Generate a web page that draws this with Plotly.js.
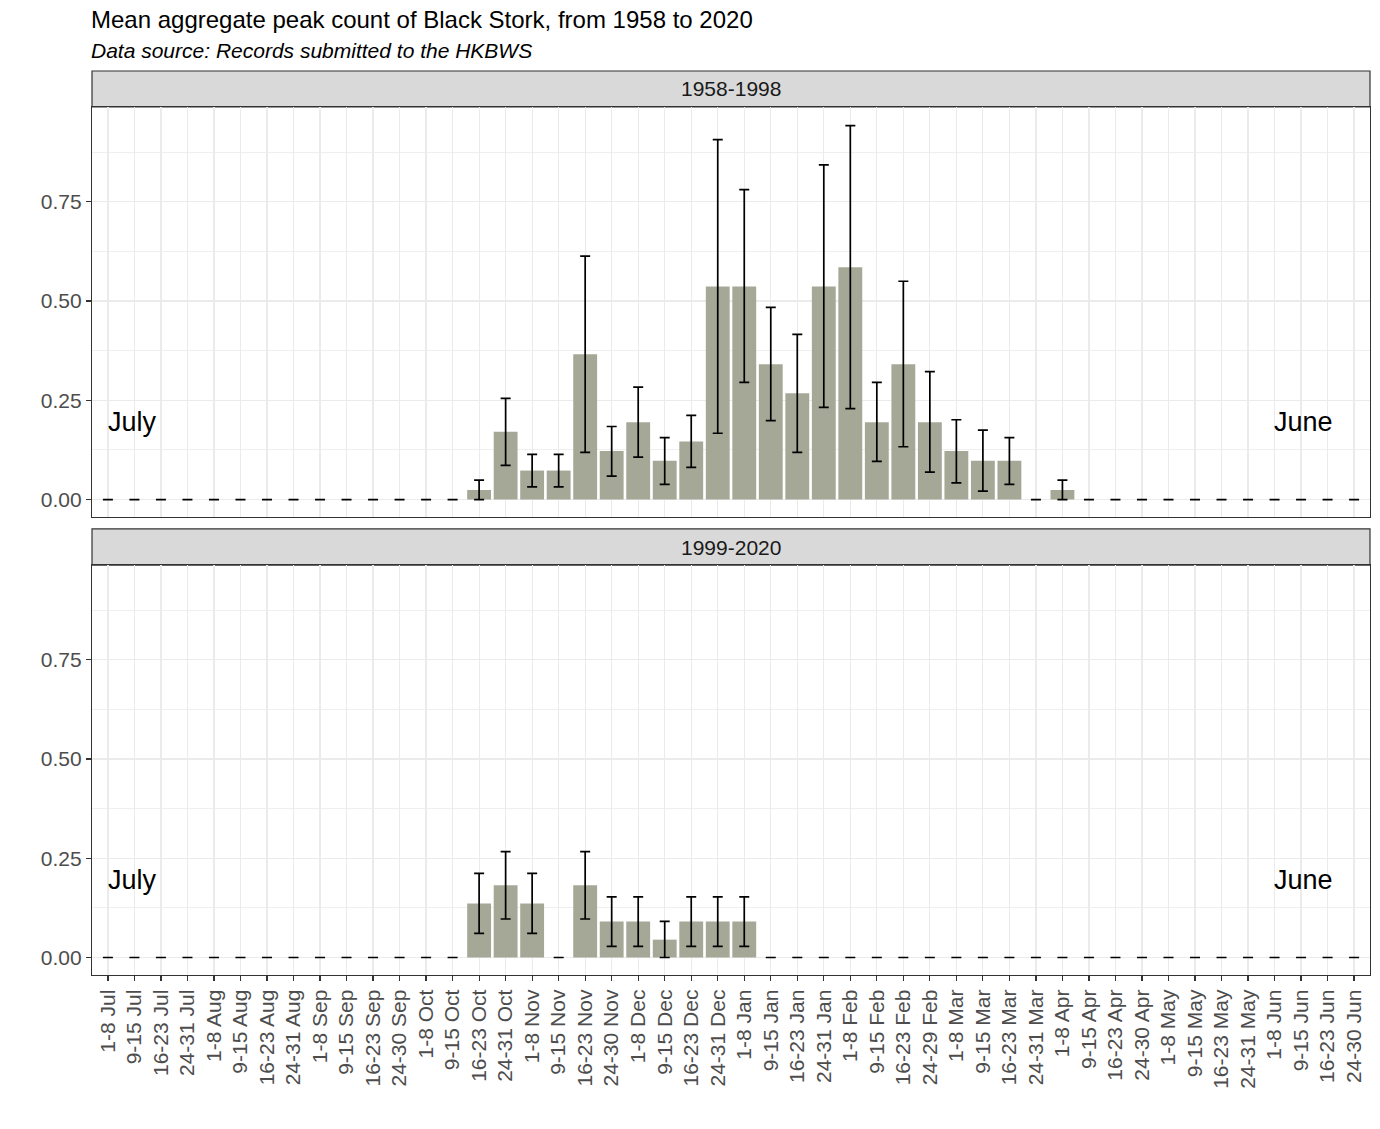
<!DOCTYPE html>
<html>
<head>
<meta charset="utf-8">
<script src="https://cdn.plot.ly/plotly-3.0.1.min.js"></script>
<style>
  html, body { margin: 0; padding: 0; background: #ffffff; }
  #chart { width: 1380px; height: 1129px; }
</style>
</head>
<body>
<div id="chart"></div>
<script>
// ---- Data ----
const weeks = ['1-8 Jul','9-15 Jul','16-23 Jul','24-31 Jul','1-8 Aug','9-15 Aug','16-23 Aug','24-31 Aug',
  '1-8 Sep','9-15 Sep','16-23 Sep','24-30 Sep','1-8 Oct','9-15 Oct','16-23 Oct','24-31 Oct',
  '1-8 Nov','9-15 Nov','16-23 Nov','24-30 Nov','1-8 Dec','9-15 Dec','16-23 Dec','24-31 Dec',
  '1-8 Jan','9-15 Jan','16-23 Jan','24-31 Jan','1-8 Feb','9-15 Feb','16-23 Feb','24-29 Feb',
  '1-8 Mar','9-15 Mar','16-23 Mar','24-31 Mar','1-8 Apr','9-15 Apr','16-23 Apr','24-30 Apr',
  '1-8 May','9-15 May','16-23 May','24-31 May','1-8 Jun','9-15 Jun','16-23 Jun','24-30 Jun'];

// Period 1958-1998
const mean1958 = [0,0,0,0, 0,0,0,0, 0,0,0,0, 0,0,0.024,0.171,
  0.073,0.073,0.366,0.122, 0.195,0.098,0.146,0.537, 0.537,0.341,0.268,0.537, 0.585,0.195,0.341,0.195,
  0.122,0.098,0.098,0, 0.024,0,0,0, 0,0,0,0, 0,0,0,0];
const upper1958 = [0,0,0,0, 0,0,0,0, 0,0,0,0, 0,0,0.049,0.255,
  0.114,0.114,0.613,0.184, 0.283,0.156,0.212,0.907, 0.781,0.484,0.416,0.843, 0.942,0.295,0.550,0.322,
  0.201,0.175,0.156,0, 0.049,0,0,0, 0,0,0,0, 0,0,0,0];
const lower1958 = [0,0,0,0, 0,0,0,0, 0,0,0,0, 0,0,0,0.086,
  0.032,0.032,0.119,0.059, 0.107,0.038,0.081,0.167, 0.295,0.199,0.119,0.232, 0.229,0.096,0.133,0.069,
  0.042,0.021,0.038,0, 0,0,0,0, 0,0,0,0, 0,0,0,0];

// Period 1999-2020
const mean1999 = [0,0,0,0, 0,0,0,0, 0,0,0,0, 0,0,0.136,0.182,
  0.136,0,0.182,0.091, 0.091,0.045,0.091,0.091, 0.091,0,0,0, 0,0,0,0,
  0,0,0,0, 0,0,0,0, 0,0,0,0, 0,0,0,0];
const upper1999 = [0,0,0,0, 0,0,0,0, 0,0,0,0, 0,0,0.212,0.267,
  0.212,0,0.267,0.153, 0.153,0.091,0.153,0.153, 0.153,0,0,0, 0,0,0,0,
  0,0,0,0, 0,0,0,0, 0,0,0,0, 0,0,0,0];
const lower1999 = [0,0,0,0, 0,0,0,0, 0,0,0,0, 0,0,0.061,0.097,
  0.061,0,0.097,0.028, 0.028,0,0.028,0.028, 0.028,0,0,0, 0,0,0,0,
  0,0,0,0, 0,0,0,0, 0,0,0,0, 0,0,0,0];

const periodLabels = ['1958-1998', '1999-2020'];
const yTickVals = [0, 0.25, 0.5, 0.75];
const yTickText = ['0.00', '0.25', '0.50', '0.75'];

// ---- Styling ----
const barColor = '#A6A897';
const gridColor = '#EBEBEB';
const borderColor = '#333333';
const tickTextColor = '#4D4D4D';
const FONT = 'Liberation Sans, Arial, sans-serif';

function makeTrace(means, upper, lower, xa, ya) {
  return {
    type: 'bar',
    x: weeks,
    y: means,
    xaxis: xa,
    yaxis: ya,
    width: 0.9,
    marker: { color: barColor, line: { width: 0 } },
    error_y: {
      type: 'data',
      symmetric: false,
      array: upper.map((u, i) => u - means[i]),
      arrayminus: lower.map((l, i) => means[i] - l),
      color: '#000000',
      thickness: 1.7,
      width: 5
    },
    hoverinfo: 'x+y',
    showlegend: false
  };
}

const traces = [
  makeTrace(mean1958, upper1958, lower1958, 'x', 'y'),
  makeTrace(mean1999, upper1999, lower1999, 'x2', 'y2')
];

// plot area: left 92, right 1370, top 71, bottom 975 (pixels)
const topDomain = [0.5066, 0.9602];
const botDomain = [0.0, 0.4535];
const yRange = [-0.0441, 0.989];

function xAxis(anchor, showLabels) {
  return {
    type: 'category',
    anchor: anchor,
    range: [-0.6, 47.6],
    showgrid: true,
    gridcolor: gridColor,
    gridwidth: 1.2,
    showline: true,
    linecolor: borderColor,
    linewidth: 1.2,
    mirror: true,
    zeroline: false,
    ticks: showLabels ? 'outside' : '',
    ticklen: 5,
    tickwidth: 1.2,
    tickcolor: borderColor,
    showticklabels: showLabels,
    tickangle: -90,
    tickfont: { family: FONT, size: 21, color: tickTextColor },
    fixedrange: true
  };
}

function yAxis(domain, anchor) {
  return {
    domain: domain,
    anchor: anchor,
    range: yRange,
    tickmode: 'array',
    tickvals: yTickVals,
    ticktext: yTickText,
    showgrid: true,
    gridcolor: gridColor,
    gridwidth: 1.2,
    minor: { tickmode: 'linear', tick0: 0, dtick: 0.125, showgrid: true, gridcolor: gridColor, gridwidth: 0.8, ticks: '' },
    showline: true,
    linecolor: borderColor,
    linewidth: 1.2,
    mirror: true,
    zeroline: false,
    ticks: 'outside',
    ticklen: 5,
    tickwidth: 1.2,
    tickcolor: borderColor,
    tickfont: { family: FONT, size: 21, color: tickTextColor },
    fixedrange: true
  };
}

const layout = {
  width: 1380,
  height: 1129,
  autosize: false,
  paper_bgcolor: '#ffffff',
  plot_bgcolor: '#ffffff',
  margin: { l: 92, r: 10, t: 71, b: 154, pad: 0 },
  bargap: 0.1,
  font: { family: FONT, color: '#000000' },
  title: {
    text: 'Mean aggregate peak count of Black Stork, from 1958 to 2020',
    font: { family: FONT, size: 24, color: '#000000' },
    xref: 'container', x: 91 / 1380, xanchor: 'left',
    yref: 'container', y: 1 - 20 / 1129, yanchor: 'middle'
  },
  xaxis: xAxis('y', false),
  xaxis2: Object.assign(xAxis('y2', true), { matches: 'x' }),
  yaxis: yAxis(topDomain, 'x'),
  yaxis2: yAxis(botDomain, 'x2'),
  shapes: [
    { type: 'rect', xref: 'paper', yref: 'paper', x0: 0, x1: 1, y0: topDomain[1], y1: 1.0,
      fillcolor: '#D9D9D9', line: { color: borderColor, width: 1.2 }, layer: 'below' },
    { type: 'rect', xref: 'paper', yref: 'paper', x0: 0, x1: 1, y0: botDomain[1], y1: 0.4934,
      fillcolor: '#D9D9D9', line: { color: borderColor, width: 1.2 }, layer: 'below' }
  ],
  annotations: [
    { text: '<i>Data source: Records submitted to the HKBWS</i>', xref: 'paper', yref: 'paper',
      x: -0.002, xanchor: 'left', y: (975 - 50) / 904, yanchor: 'middle', showarrow: false,
      font: { family: FONT, size: 21, color: '#000000' } },
    { text: periodLabels[0], xref: 'paper', yref: 'paper', x: 0.5, xanchor: 'center',
      y: (topDomain[1] + 1.0) / 2, yanchor: 'middle', showarrow: false,
      font: { family: FONT, size: 21, color: '#1A1A1A' } },
    { text: periodLabels[1], xref: 'paper', yref: 'paper', x: 0.5, xanchor: 'center',
      y: (botDomain[1] + 0.4934) / 2, yanchor: 'middle', showarrow: false,
      font: { family: FONT, size: 21, color: '#1A1A1A' } },
    { text: 'July', xref: 'paper', yref: 'y', x: 14 / 1278, xanchor: 'left', y: 0.195, yanchor: 'middle',
      showarrow: false, font: { family: FONT, size: 27, color: '#000000' } },
    { text: 'June', xref: 'paper', yref: 'y', x: 1243 / 1278, xanchor: 'right', y: 0.195, yanchor: 'middle',
      showarrow: false, font: { family: FONT, size: 27, color: '#000000' } },
    { text: 'July', xref: 'paper', yref: 'y2', x: 14 / 1278, xanchor: 'left', y: 0.195, yanchor: 'middle',
      showarrow: false, font: { family: FONT, size: 27, color: '#000000' } },
    { text: 'June', xref: 'paper', yref: 'y2', x: 1243 / 1278, xanchor: 'right', y: 0.195, yanchor: 'middle',
      showarrow: false, font: { family: FONT, size: 27, color: '#000000' } }
  ]
};

Plotly.newPlot('chart', traces, layout, { displayModeBar: false, staticPlot: true });
</script>
</body>
</html>
